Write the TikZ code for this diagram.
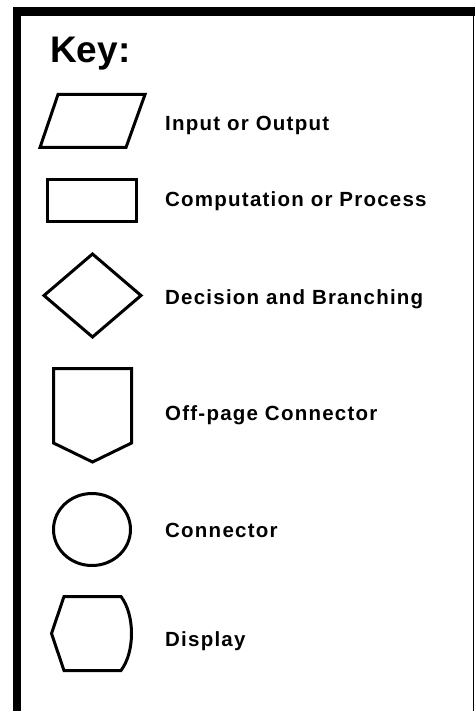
\documentclass[tikz,border=0pt]{standalone}
\usepackage{fontspec}
\setmainfont{Liberation Sans}
\tikzset{sym/.style = {line width=3pt, line join=miter},
    lbl/.style = {anchor=base west, inner sep=0pt,
        font=\fontsize{20.5}{23}\selectfont\bfseries\addfontfeatures{LetterSpace=6}},
    ttl/.style = {anchor=base west, inner sep=0pt,
        font=\fontsize{37}{40}\selectfont\bfseries}}
\begin{document}
\begin{tikzpicture}[x=1pt, y=-1pt]
    \useasboundingbox (0,0) rectangle (475,711);
    % frame
    \fill (13,7.5) rectangle (475,16);
    \fill (13,7.5) rectangle (21,711);
    \draw[line width=1.5pt] (473.5,16) -- (473.5,711);

    \node[ttl] (key) at (50,63) {Key:};

    % symbols
    \draw[sym] (40,147.5) -- (126,147.5) -- (145,94.5) -- (58,94.5) -- cycle;
    \draw[sym] (47.5,179.5) rectangle (136.5,221.5);
    \draw[sym] (44,295.5) -- (92.5,254) -- (141,295.5) -- (92.5,337) -- cycle;
    \draw[sym] (53.5,368.5) -- (131.5,368.5) -- (131.5,443) -- (92.5,462) -- (53.5,443) -- cycle;
    \draw[sym] (92,529.5) circle[x radius=38.5pt, y radius=36pt];
    \draw[sym] (64,596.5) -- (121,596.5) .. controls (135,615) and (135,652) .. (121,670.5)
        -- (64,670.5) -- (51.5,633.5) -- cycle;

    % labels
    \foreach \n/\y/\t in {io/131/Input or Output, proc/207/Computation or Process,
        dec/304/Decision and Branching, off/420.5/Off-page Connector,
        conn/537/Connector, disp/646.5/Display}
        \node[lbl] (\n) at (165,\y) {\t};
\end{tikzpicture}
\end{document}
